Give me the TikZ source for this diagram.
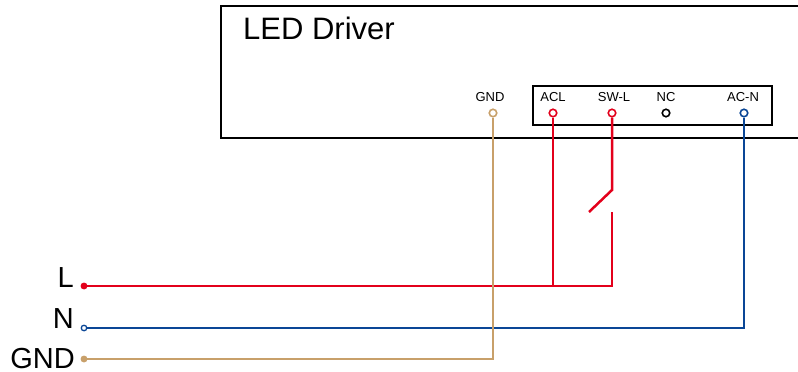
\documentclass[tikz,border=0pt]{standalone}
\usepackage{fontspec}
\setmainfont{Liberation Sans}
\definecolor{wireL}{RGB}{227,0,27}
\definecolor{wireN}{RGB}{10,70,150}
\definecolor{wireG}{RGB}{200,160,106}
\begin{document}
\begin{tikzpicture}[x=1pt, y=-1pt,
    term/.style={circle, draw, fill=white, line width=1.6pt, inner sep=0pt, minimum size=7.5pt},
    enddot/.style={circle, draw, line width=1.3pt, inner sep=0pt, minimum size=5.5pt},
    pinlabel/.style={font=\fontsize{13}{13}\selectfont, anchor=base, inner sep=0pt},
    linelabel/.style={font=\fontsize{29}{29}\selectfont, inner sep=0pt},
    wire/.style={line width=2.5pt}]
    \useasboundingbox (0,0) rectangle (798,372);

    % Driver housing and terminal block
    \draw[line width=2.2pt] (799,6) -- (221,6) -- (221,138) -- (799,138);
    \node[font=\fontsize{31}{31}\selectfont, anchor=base west, inner sep=0pt] (title) at (243,39.5) {LED Driver};
    \draw[line width=2.2pt] (533,86) rectangle (772,125);

    % Terminal labels
    \node[pinlabel] (lGND) at (490,101.7) {GND};
    \node[pinlabel] (lACL) at (553,101.7) {ACL};
    \node[pinlabel] (lSWL) at (614,101.7) {SW-L};
    \node[pinlabel] (lNC)  at (666,101.7) {NC};
    \node[pinlabel] (lACN) at (743,101.7) {AC-N};

    % Terminals
    \node[term, draw=wireG] (tGND) at (493,113) {};
    \node[term, draw=wireL] (tACL) at (553,113) {};
    \node[term, draw=wireL] (tSWL) at (612,113) {};
    \node[term, draw=black] (tNC)  at (666,113) {};
    \node[term, draw=wireN] (tACN) at (744,113) {};

    % Mains inputs
    \node[enddot, draw=wireL, fill=wireL] (Lend) at (84,286) {};
    \node[enddot, draw=wireN, fill=white] (Nend) at (84,328) {};
    \node[enddot, draw=wireG, fill=wireG] (Gend) at (84,359) {};
    \node[linelabel, anchor=base east] (Llab) at (74,287) {L};
    \node[linelabel, anchor=base east] (Nlab) at (74,328) {N};
    \node[linelabel, anchor=base east] (Glab) at (75,368) {GND};

    % Switch contacts
    \coordinate (swtop) at (612,190);
    \coordinate (swarm) at (589,212);
    \coordinate (swbot) at (612,212);

    % Draw wires
    \draw[wire, wireL] (Lend) -- (swbot |- Lend) -- (swbot);
    \draw[wire, wireL] (tACL) -- (tACL |- Lend);
    \draw[wire, wireL] (tSWL) -- (swtop) -- (swarm);
    \draw[wire, wireN] (Nend) -- (tACN |- Nend) -- (tACN);
    \draw[wire, wireG] (Gend) -- (tGND |- Gend) -- (tGND);
\end{tikzpicture}
\end{document}
